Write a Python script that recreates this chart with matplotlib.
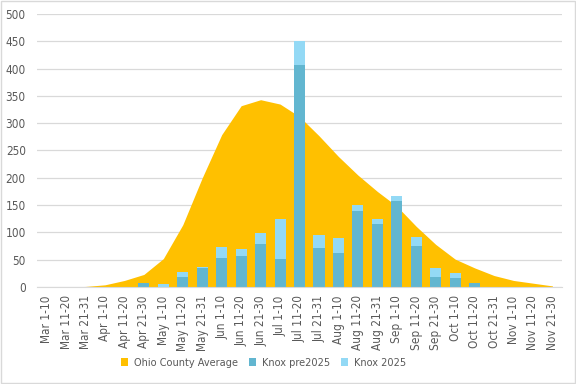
import matplotlib
matplotlib.use("Agg")
import matplotlib.pyplot as plt
from matplotlib.patches import Rectangle
import numpy as np

plt.rcParams['font.family'] = ['DejaVu Sans']
plt.rcParams['font.stretch'] = 'condensed'

categories = ["Mar 1-10", "Mar 11-20", "Mar 21-31", "Apr 1-10", "Apr 11-20", "Apr 21-30",
              "May 1-10", "May 11-20", "May 21-31", "Jun 1-10", "Jun 11-20", "Jun 21-30",
              "Jul 1-10", "Jul 11-20", "Jul 21-31", "Aug 1-10", "Aug 11-20", "Aug 21-31",
              "Sep 1-10", "Sep 11-20", "Sep 21-30", "Oct 1-10", "Oct 11-20", "Oct 21-31",
              "Nov 1-10", "Nov 11-20", "Nov 21-30"]
ohio_avg = [0, 0, 1, 4, 12, 23, 52, 114, 200, 279, 332, 343, 335, 312, 277,
            239, 205, 175, 148, 111, 78, 51, 35, 21, 12, 7, 2]
knox_pre2025 = [0, 0, 0, 0, 0, 8, 0, 18, 34, 54, 56, 78, 51, 407, 71,
                62, 140, 116, 157, 76, 18, 16, 7, 0, 0, 0, 0]
knox_2025 = [0, 0, 0, 0, 0, 0, 6, 10, 3, 19, 13, 20, 73, 44, 24,
             27, 10, 9, 10, 16, 16, 10, 1, 0, 0, 0, 0]

c_area = '#FFC000'
c_pre = '#62B6D0'
c_new = '#93D9F5'

fig = plt.figure(figsize=(5.76, 3.84), dpi=100)
ax = fig.add_axes([0.064, 0.2526, 0.912, 0.711])
x = np.arange(len(categories))
ax.fill_between(x, ohio_avg, 0, color=c_area, linewidth=0, label='Ohio County Average', zorder=2)
ax.bar(x, knox_pre2025, width=0.57, color=c_pre, label='Knox pre2025', zorder=3)
ax.bar(x, knox_2025, width=0.57, bottom=knox_pre2025, color=c_new, label='Knox 2025', zorder=3)

ax.set_xlim(-0.5, len(categories) - 0.5)
ax.set_ylim(0, 500)
ax.set_yticks(np.arange(0, 501, 50))
ax.yaxis.grid(True, color='#D9D9D9', linewidth=0.9, zorder=0)
ax.set_axisbelow(True)
for s in ['top', 'right', 'left']:
    ax.spines[s].set_visible(False)
ax.spines['bottom'].set_color('#D9D9D9')
ax.spines['bottom'].set_zorder(4)
ax.tick_params(axis='y', length=0, labelsize=8.5, labelcolor='#595959', pad=8)
ax.tick_params(axis='x', length=0, labelsize=8.5, labelcolor='#595959', pad=6)
ax.set_xticks(x)
ax.set_xticklabels(categories, rotation=90)

handles, labels = ax.get_legend_handles_labels()
fig.legend(handles, labels, loc='center', bbox_to_anchor=(0.457, 0.055), ncol=3,
           frameon=False, fontsize=7.8, labelcolor='#595959', handlelength=0.7,
           handleheight=0.7, handletextpad=0.5, columnspacing=1.0)

fig.patches.append(Rectangle((0.002, 0.003), 0.996, 0.994, transform=fig.transFigure,
                             fill=False, edgecolor='#D9D9D9', linewidth=1))
fig.savefig('out.png', dpi=100)
